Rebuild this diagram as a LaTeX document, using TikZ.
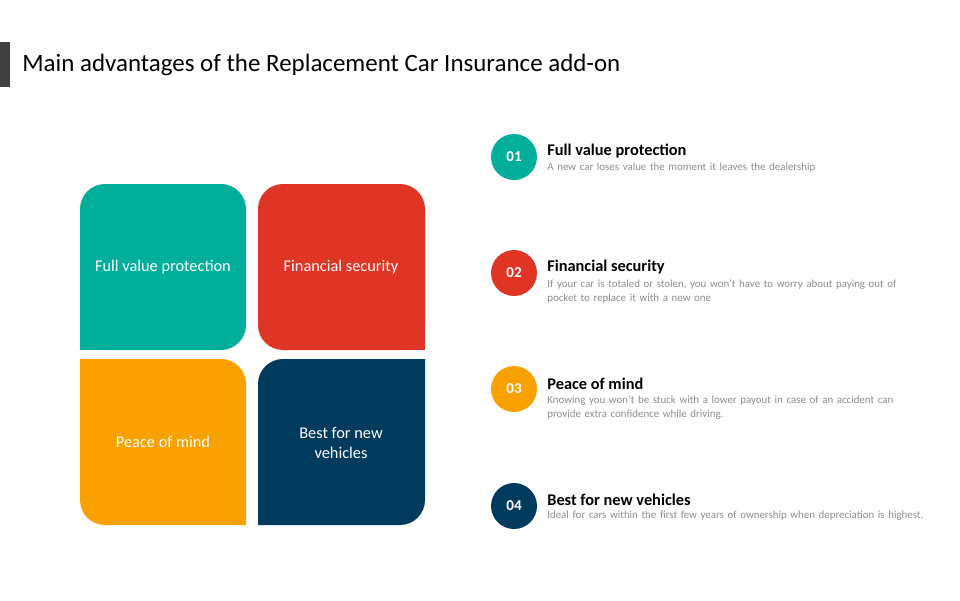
\documentclass[tikz,border=0pt]{standalone}
\usepackage{fontspec}
\setmainfont{Carlito}
\usetikzlibrary{positioning}
\definecolor{cgreen}{HTML}{00AE9A}
\definecolor{cred}{HTML}{E03424}
\definecolor{corange}{HTML}{F9A100}
\definecolor{cnavy}{HTML}{003A5D}
\definecolor{cgrey}{HTML}{8C8C8C}
\begin{document}
\begin{tikzpicture}[
x = .02cm, y = -.02cm,
tile/.style={rounded corners=.5cm},
tiletext/.style={white, font=\fontsize{9.3}{11.5}\selectfont, align=center},
badge/.style={circle, minimum size=.92cm, inner sep=0pt, text=white, font=\fontsize{8.6}{10}\selectfont\bfseries},
heading/.style={anchor=south west, inner sep=0pt, font=\fontsize{9.3}{10}\selectfont\bfseries},
desc/.style={anchor=north west, inner sep=0pt, text=cgrey, align=left, text width=7.6cm, font=\fontsize{6.2}{8.5}\selectfont, execute at begin node={\hyphenpenalty=10000}}
]

\useasboundingbox (0,0) rectangle (960,600);

%%%% TITLE
\fill[black!75] (0,42) rectangle (10,87);
\node[anchor=west, inner sep=0pt, font=\fontsize{14.2}{16}\selectfont] (title) at (22,65) {Main advantages of the Replacement Car Insurance add-on};

%%%% TILES
\fill[cgreen, tile] (80,184) rectangle (246,350);
\fill[cgreen] (80,325) rectangle (105,350);
\fill[cred, tile] (258,184) rectangle (425,350);
\fill[cred] (400,325) rectangle (425,350);
\fill[corange, tile] (80,359) rectangle (246,525);
\fill[corange] (80,359) rectangle (105,384) (221,500) rectangle (246,525);
\fill[cnavy, tile] (258,359) rectangle (425,525);
\fill[cnavy] (400,359) rectangle (425,384) (258,500) rectangle (283,525);

\node[tiletext] (t1) at (163,267) {Full value protection};
\node[tiletext] (t2) at (341,267) {Financial security};
\node[tiletext] (t3) at (163,442) {Peace of mind};
\node[tiletext] (t4) at (341,443) {Best for new\\vehicles};

%%%% LIST
\node[badge, fill=cgreen] (b1) at (514,157) {01};
\node[heading] (h1) at (547,158) {Full value protection};
\node[desc] (d1) at (547,163) {A new car loses value the moment it leaves the dealership};

\node[badge, fill=cred] (b2) at (514,273) {02};
\node[heading] (h2) at (547,274) {Financial security};
\node[desc] (d2) at (547,279) {If your car is totaled or stolen, you won't have to worry about paying out of pocket to replace it with a new one};

\node[badge, fill=corange] (b3) at (514,389) {03};
\node[heading] (h3) at (547,390) {Peace of mind};
\node[desc] (d3) at (547,395) {Knowing you won't be stuck with a lower payout in case of an accident can provide extra confidence while driving.};

\node[badge, fill=cnavy] (b4) at (514,506) {04};
\node[heading] (h4) at (547,506) {Best for new vehicles};
\node[desc, text width=8.2cm] (d4) at (547,511) {Ideal for cars within the first few years of ownership when depreciation is highest.};

\end{tikzpicture}
\end{document}
